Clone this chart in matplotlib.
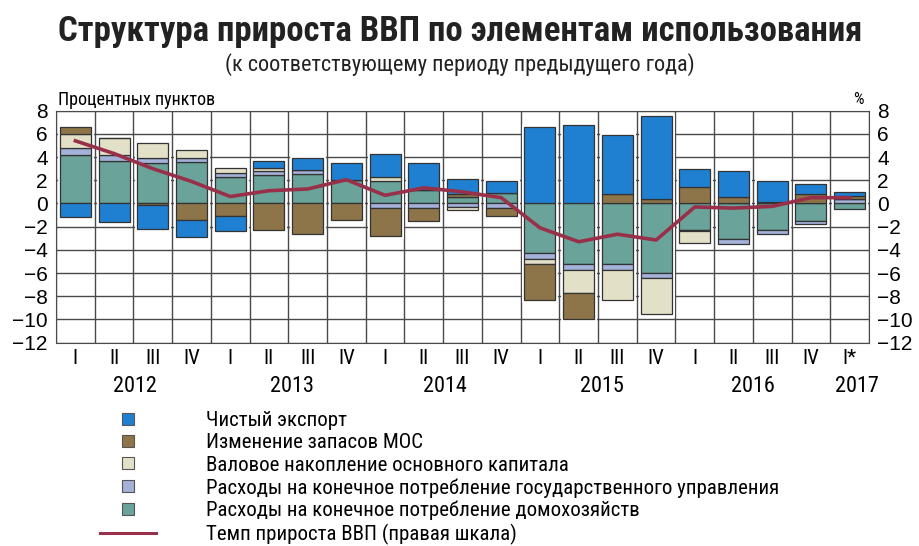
import numpy as np
import matplotlib
matplotlib.use("Agg")
import matplotlib.pyplot as plt
from matplotlib import font_manager as fm
from matplotlib.lines import Line2D

# quarters 2012 Q1 .. 2017 Q1
quarters = ["I", "II", "III", "IV"] * 5 + ["I*"]
years = ["2012", "2013", "2014", "2015", "2016", "2017"]

# contributions, percentage points
household = [4.15, 3.70, 3.50, 3.60, 2.25, 2.45, 2.55, 2.00, 1.95, 1.20, 0.55,
             0.90, -4.25, -5.25, -5.25, -6.00, -2.30, -3.10, -2.30, -1.55, -0.50]
government = [0.65, 0.45, 0.40, 0.35, 0.40, 0.35, 0.30, 0.00, -0.40, -0.40, -0.30,
              -0.35, -0.50, -0.50, -0.50, -0.45, -0.10, -0.40, -0.35, -0.20, 0.35]
gfcf = [1.15, 1.50, 1.35, 0.70, 0.45, 0.25, 0.00, 0.00, 0.30, 0.00, -0.30,
        0.00, -0.45, -1.95, -2.60, -3.10, -1.05, 0.00, 0.00, 0.00, 0.00]
inventory = [0.60, 0.00, -0.15, -1.40, -1.10, -2.30, -2.60, -1.45, -2.40, -1.10, 0.30,
             -0.75, -3.15, -2.30, 0.85, 0.40, 1.45, 0.55, 0.15, 0.80, 0.30]
net_export = [-1.15, -1.60, -2.05, -1.45, -1.30, 0.65, 1.03, 1.45, 2.00, 2.25, 1.25,
              1.05, 6.60, 6.75, 5.05, 7.10, 1.55, 2.25, 1.80, 0.90, 0.30]
# GDP growth, % (right scale)
gdp = [5.4, 4.3, 3.0, 1.9, 0.6, 1.1, 1.25, 2.05, 0.7, 1.35, 1.0, 0.5,
       -2.1, -3.3, -2.65, -3.15, -0.3, -0.4, -0.25, 0.5, 0.5]

# condensed face if there is one
names = {f.name for f in fm.fontManager.ttflist}
NARROW = next((n for n in ["Roboto Condensed", "Liberation Sans Narrow", "Open Sans Condensed"]
               if n in names), "Liberation Sans")

series = [
    (household, "#6aa39a", "Расходы на конечное потребление домохозяйств"),
    (government, "#a4b1d9", "Расходы на конечное потребление государственного управления"),
    (gfcf, "#e3e0c8", "Валовое накопление основного капитала"),
    (inventory, "#8d7549", "Изменение запасов МОС"),
    (net_export, "#1f80d2", "Чистый экспорт"),
]
line_color = "#983049"
edge = "#333333"

fig = plt.figure(figsize=(9.2, 5.46), dpi=100)
ax = fig.add_axes([0.0609, 0.3724, 0.8837, 0.4249])
x = np.arange(len(gdp))
pos = np.zeros(len(x))
neg = np.zeros(len(x))
for vals, color, label in series:
    v = np.array(vals)
    base = np.where(v >= 0, pos, neg)
    # white halo first, then the outlined segment
    ax.bar(x, v, 0.8, bottom=base, color=color, edgecolor="white", linewidth=3.5, zorder=2)
    ax.bar(x, v, 0.8, bottom=base, color=color, edgecolor=edge, linewidth=0.9, zorder=3)
    pos = pos + np.where(v >= 0, v, 0)
    neg = neg + np.where(v < 0, v, 0)

ax.set_xlim(-0.5, len(x) - 0.5)
ax.set_ylim(-12, 8)
ax.set_yticks(range(-12, 9, 2))
ax.set_xticks(x)
ax.set_xticklabels([])
ax.set_xticks(np.arange(-0.5, len(x), 1), minor=True)
ax.grid(axis="y", which="major", color="#4a4a4a", lw=1.0, zorder=0)
ax.grid(axis="x", which="minor", color="#4a4a4a", lw=1.0, zorder=0)
ax.tick_params(which="both", length=0)
ax.tick_params(axis="y", labelsize=15, pad=6)
for s in ax.spines.values():
    s.set_color("#4a4a4a")
for t in ax.get_yticklabels():
    t.set_family("Liberation Sans")

ax2 = ax.twinx()
ax2.set_ylim(-12, 8)
ax2.set_yticks(range(-12, 9, 2))
ax2.tick_params(length=0, labelsize=15, pad=6)
for t in ax2.get_yticklabels():
    t.set_family("Liberation Sans")
ax2.plot(x, gdp, color=line_color, lw=2.6, solid_joinstyle="round", zorder=4)
for s in ax2.spines.values():
    s.set_visible(False)

# quarter and year labels
for i, q in enumerate(quarters):
    ax.text(i, -13.4, q, ha="center", va="center", fontsize=15, family=NARROW)
year_pos = [1.55, 5.6, 9.55, 13.6, 17.5, 20.2]
for xp, yr in zip(year_pos, years):
    ax.text(xp, -15.8, yr, ha="center", va="center", fontsize=16, family=NARROW)

fig.text(58 / 920, 1 - 100 / 546, "Процентных пунктов", fontsize=13, family=NARROW,
         va="center", ha="left")
fig.text(864 / 920, 1 - 100 / 546, "%", fontsize=12, family=NARROW, va="center", ha="right")

fig.text(0.5, 1 - 32 / 546, "Структура прироста ВВП по элементам использования",
         ha="center", va="center", fontsize=25, fontweight="bold", family=NARROW,
         color="#222222")
fig.text(0.5, 1 - 65 / 546, "(к соответствующему периоду предыдущего года)",
         ha="center", va="center", fontsize=16, family=NARROW, color="#222222")

handles, labels = [], []
for vals, color, label in series[::-1]:
    handles.append(Line2D([], [], ls="none", marker="s", markersize=9, markerfacecolor=color,
                          markeredgecolor="#555555", markeredgewidth=0.8))
    labels.append(label)
handles.append(Line2D([], [], color=line_color, lw=2.2))
labels.append("Темп прироста ВВП (правая шкала)")
fig.legend(handles, labels, loc="upper left", bbox_to_anchor=(100 / 920, 1 - 411 / 546),
           frameon=False, prop={"family": NARROW, "size": 15}, handlelength=2.7,
           handletextpad=2.4, labelspacing=0.16, borderaxespad=0, borderpad=0)

fig.savefig("out.png", dpi=100)
